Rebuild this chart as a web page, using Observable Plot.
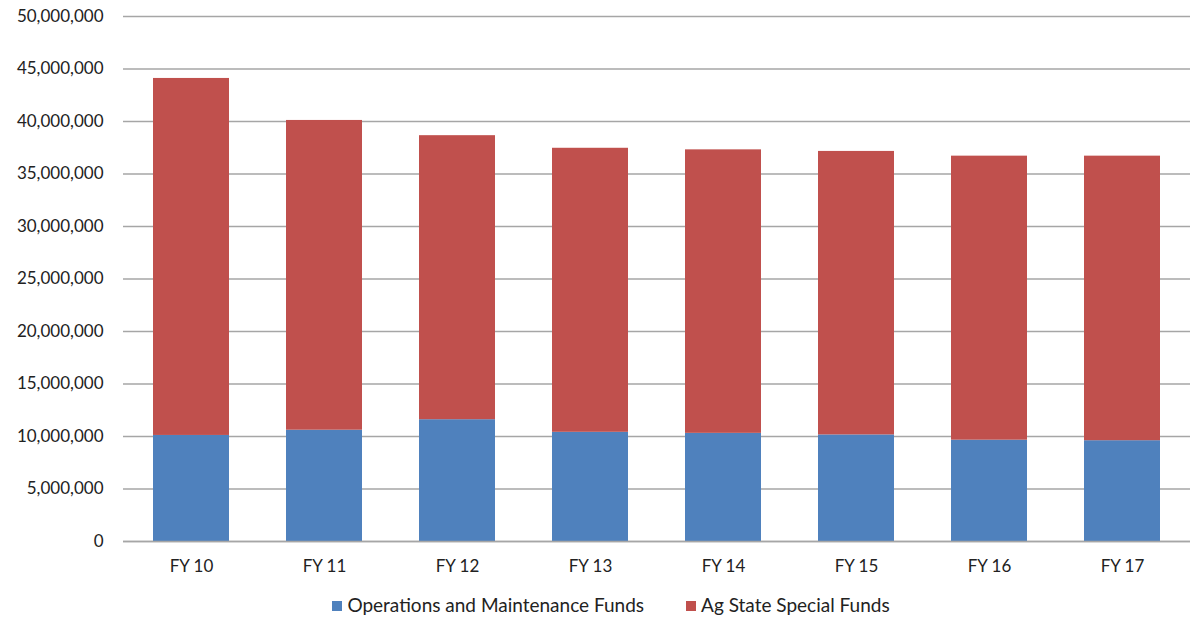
<!DOCTYPE html>
<html>
<head>
<meta charset="utf-8">
<script src="https://cdn.jsdelivr.net/npm/d3@7"></script>
<script src="https://cdn.jsdelivr.net/npm/@observablehq/plot@0.6"></script>
<style>
  body { margin: 0; background: #fff; font-family: Lato, "Open Sans", sans-serif; }
  #chart { width: 1192px; height: 588px; }
  .legend { display: flex; justify-content: center; gap: 42px; font-size: 19px; color: #222; margin-top: 5px; padding-left: 30px; }
  .legend span.sw { display: inline-block; width: 10px; height: 10px; margin-right: 5px; vertical-align: 1px; }
</style>
</head>
<body>
<div id="chart"></div>
<script>
const years = ["FY 10", "FY 11", "FY 12", "FY 13", "FY 14", "FY 15", "FY 16", "FY 17"];
const omFunds = [10100000, 10600000, 11600000, 10400000, 10300000, 10150000, 9650000, 9600000];
const totals = [44100000, 40100000, 38650000, 37450000, 37300000, 37150000, 36700000, 36700000];
const series = ["Operations and Maintenance Funds", "Ag State Special Funds"];
const colors = ["#4F81BD", "#C0504D"];
const yTicks = [0, 5000000, 10000000, 15000000, 20000000, 25000000, 30000000, 35000000, 40000000, 45000000, 50000000];

const data = [];
years.forEach((y, i) => {
  data.push({ year: y, series: series[0], value: omFunds[i] });
  data.push({ year: y, series: series[1], value: totals[i] - omFunds[i] });
});

const fmt = d3.format(",");
const chart = Plot.plot({
  width: 1192,
  height: 588,
  marginTop: 16,
  marginBottom: 47,
  marginLeft: 123,
  marginRight: 2,
  style: { fontFamily: "Lato, 'Open Sans', sans-serif", fontSize: "17px", color: "#222", background: "#fff" },
  x: { domain: years, paddingInner: 0.43, paddingOuter: 0.215, label: null, tickSize: 0, tickPadding: 18 },
  y: { domain: [0, 50000000], ticks: yTicks, tickFormat: fmt, label: null, tickSize: 0, tickPadding: 20 },
  color: { domain: series, range: colors },
  marks: [
    Plot.ruleY(yTicks, { stroke: "#a6a6a6", strokeWidth: 1.5 }),
    Plot.barY(data, Plot.stackY({ x: "year", y: "value", fill: "series", order: series })),
    Plot.ruleY([0], { stroke: "#a6a6a6", strokeWidth: 1.5 })
  ]
});
document.getElementById("chart").appendChild(chart);

const legend = document.createElement("div");
legend.className = "legend";
series.forEach((s, i) => {
  const item = document.createElement("div");
  const sw = document.createElement("span");
  sw.className = "sw";
  sw.style.background = colors[i];
  item.appendChild(sw);
  item.appendChild(document.createTextNode(s));
  legend.appendChild(item);
});
document.body.appendChild(legend);
</script>
</body>
</html>
